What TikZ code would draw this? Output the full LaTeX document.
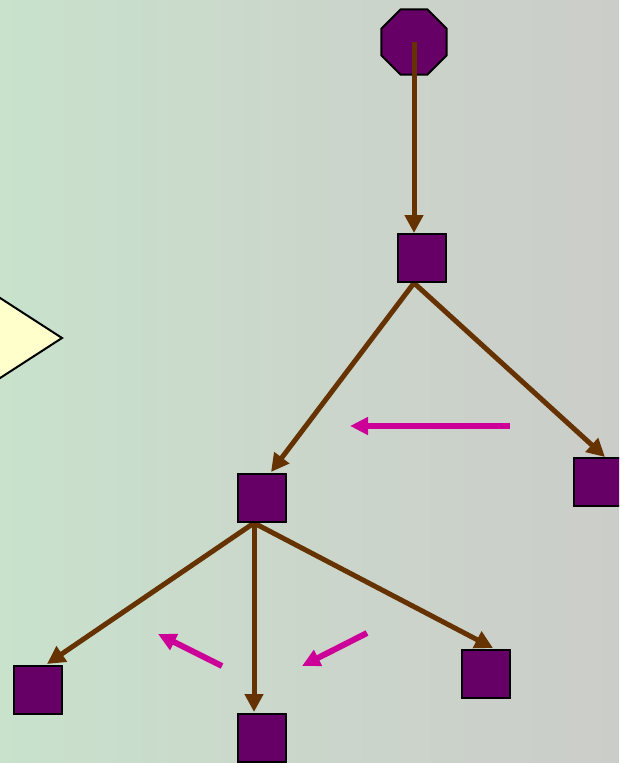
\documentclass[tikz,border=0pt]{standalone}
\usetikzlibrary{shapes.geometric,arrows.meta,calc}
\pgfdeclarelayer{bg}
\pgfdeclarelayer{links}
\pgfsetlayers{bg,links,main}
\definecolor{bgleft}{RGB}{200,226,204}
\definecolor{bgmid}{RGB}{203,214,203}
\definecolor{bgright}{RGB}{203,205,201}
\definecolor{nodepurple}{RGB}{102,0,102}
\definecolor{linkbrown}{RGB}{102,51,0}
\definecolor{flowpink}{RGB}{204,0,153}
\definecolor{paleyellow}{RGB}{255,255,204}
\tikzset{
  sqbox/.style={draw=black,line width=1.5pt,fill=nodepurple,minimum size=36pt,inner sep=0pt,rectangle},
  octbox/.style={draw=black,line width=1.5pt,fill=nodepurple,regular polygon,regular polygon sides=8,minimum size=52.8pt,inner sep=0pt},
  link/.style={draw=linkbrown,line width=3.75pt,-{Triangle[length=13.5pt,width=13.5pt]}},
  flow/.style={draw=flowpink,line width=4.5pt,-{Triangle[length=13.5pt,width=12.75pt]}}
}
\begin{document}
\begin{tikzpicture}[x=0.75pt,y=-0.75pt]
\useasboundingbox (0,0) rectangle (619,763);
\clip (0,0) rectangle (619,763);
\begin{pgfonlayer}{bg}
\shade[left color=bgleft,right color=bgright,middle color=bgmid] (0,0) rectangle (619,763);
\draw[fill=paleyellow,line width=1.5pt] (62,338) -- (-20,285) -- (-20,391) -- cycle;
\end{pgfonlayer}
% octagon
\node[octbox] (oct) at (414,42) {};
% squares
\node[sqbox] (sqa) at (422,258) {};
\node[sqbox] (sqb) at (262,498) {};
\node[sqbox] (sqc) at (598,482) {};
\node[sqbox] (sqd) at (38,690) {};
\node[sqbox] (sqe) at (262,738) {};
\node[sqbox] (sqf) at (486,674) {};
% connectors
\draw[link] (oct.center) -- ($(sqa.north)+(-8,0)$);
\begin{pgfonlayer}{links}
\draw[link] ($(sqa.south)+(-8,0)$) -- ($(sqb.north)+(9,-1)$);
\draw[link] ($(sqa.south)+(-8,0)$) -- ($(sqc.north)+(7,0)$);
\draw[link] ($(sqb.south)+(-8,0)$) -- ($(sqd.north)+(9,-1)$);
\draw[link] ($(sqb.south)+(-8,0)$) -- ($(sqe.north)+(-8,-1)$);
\draw[link] ($(sqb.south)+(-8,0)$) -- ($(sqf.north)+(7,-1)$);
\end{pgfonlayer}
% pink flow arrows
\coordinate (fa1) at (510,426); \coordinate (fa2) at (350,426);
\coordinate (fb1) at (222,666); \coordinate (fb2) at (158,634);
\coordinate (fc1) at (367,633); \coordinate (fc2) at (302,666);
\draw[flow] (fa1) -- (fa2);
\draw[flow] (fb1) -- (fb2);
\draw[flow] (fc1) -- (fc2);
\end{tikzpicture}
\end{document}
